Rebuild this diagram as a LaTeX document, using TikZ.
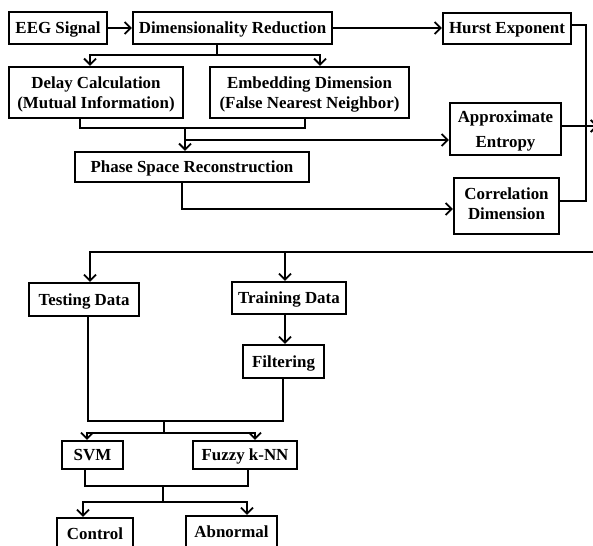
\documentclass[tikz,border=0pt]{standalone}
\usepackage{fontspec}
\setmainfont{Liberation Serif}
\usetikzlibrary{arrows.meta}
\tikzset{
  boxnode/.style={draw, line width=2.4pt, inner sep=0pt, align=center,
    font=\bfseries\fontsize{16.9}{20}\selectfont},
  oneline/.style={text height=12pt, text depth=1pt},
  conn/.style={line width=1.8pt},
  arr/.style={conn, -{Straight Barb[length=6pt,width=12pt,line width=1.8pt]}}
}
\begin{document}
\begin{tikzpicture}[x=1pt,y=-1pt]
\useasboundingbox (0,0) rectangle (593,545);
\fill[white] (0,0) rectangle (593,545);
\clip (0,0) rectangle (593,545);
% boxes
\node[boxnode, oneline, minimum width=98pt, minimum height=32pt] (eeg) at (58,28) {EEG Signal};
\node[boxnode, oneline, minimum width=199pt, minimum height=32pt] (dimred) at (232.5,28) {Dimensionality Reduction};
\node[boxnode, oneline, minimum width=128pt, minimum height=31pt] (hurst) at (507,28.5) {Hurst Exponent};
\node[boxnode, text depth=0pt, minimum width=174pt, minimum height=51pt] (delay) at (96,92.5) {Delay Calculation\\(Mutual Information)};
\node[boxnode, text depth=0pt, minimum width=199pt, minimum height=51pt] (embed) at (309.5,92.5) {Embedding Dimension\\(False Nearest Neighbor)};
\node[boxnode, oneline, minimum width=234pt, minimum height=30pt] (phase) at (192,167) {Phase Space Reconstruction};
\node[boxnode, text depth=0pt, minimum width=111pt, minimum height=52pt, font=\bfseries\fontsize{16.9}{25}\selectfont] (apen) at (505.5,129) {Approximate\\Entropy};
\node[boxnode, text depth=4pt, minimum width=105pt, minimum height=56pt] (corr) at (506.5,206) {Correlation\\Dimension};
\node[boxnode, oneline, minimum width=110pt, minimum height=33pt] (test) at (84,299.5) {Testing Data};
\node[boxnode, oneline, minimum width=114pt, minimum height=32pt] (train) at (289,298) {Training Data};
\node[boxnode, oneline, minimum width=81pt, minimum height=33pt] (filt) at (283.5,361.5) {Filtering};
\node[boxnode, oneline, minimum width=61pt, minimum height=28pt] (svm) at (92.5,455) {SVM};
\node[boxnode, oneline, minimum width=104pt, minimum height=28pt] (fuzzy) at (245,455) {Fuzzy k-NN};
\node[boxnode, oneline, minimum width=76pt, minimum height=32pt] (control) at (95,534) {Control};
\node[boxnode, oneline, minimum width=91pt, minimum height=32pt] (abnormal) at (231.5,532) {Abnormal};
% junction coordinates
\coordinate (j1) at (217,55);
\coordinate (m2) at (185,128);
\coordinate (m3) at (185,140);
\coordinate (rc) at (586,201);
\coordinate (out) at (598,126);
\coordinate (in) at (598,252);
\coordinate (t1) at (285,252);
\coordinate (m4) at (164,421);
\coordinate (m5) at (164,433);
\coordinate (m6) at (163,486);
\coordinate (m7) at (163,502);
% connectors
\draw[arr] (eeg) -- (dimred);
\draw[arr] (dimred.east) -- (dimred.east -| hurst.west);
\draw[conn] (j1 |- dimred.south) -- (j1);
\draw[arr] (j1) -| ([xshift=-6pt]delay.north);
\draw[arr] (j1) -| ([xshift=10.5pt]embed.north);
\draw[conn] ([xshift=-16pt]delay.south) |- (m2) -| ([xshift=-4.5pt]embed.south);
\draw[arr] (m2) -- (m2 |- phase.north);
\draw[arr] (m3) -- (m3 -| apen.west);
\draw[arr] ([xshift=-10pt]phase.south) |- ([yshift=-3pt]corr.west);
\draw[conn] ([yshift=3.5pt]hurst.east) -| (rc) -- (rc -| corr.east);
\draw[arr] ([yshift=3pt]apen.east) -- (out);
\draw[arr] (in) -| ([xshift=6pt]test.north);
\draw[arr] (t1) -- ([xshift=-4pt]train.north);
\draw[arr] ([xshift=-4pt]train.south) -- ([xshift=-4pt]train.south |- filt.north);
\draw[conn] ([xshift=4pt]test.south) |- (m4) -| ([xshift=-0.5pt]filt.south);
\draw[conn] (m4) -- (m5);
\draw[arr] (m5) -| ([xshift=-5.5pt]svm.north);
\draw[arr] (m5) -| ([xshift=10pt]fuzzy.north);
\draw[conn] ([xshift=-7.5pt]svm.south) |- (m6) -| ([xshift=3pt]fuzzy.south);
\draw[conn] (m6) -- (m7);
\draw[arr] (m7) -| ([xshift=-12pt]control.north);
\draw[arr] (m7) -| ([xshift=15.5pt]abnormal.north);
\end{tikzpicture}
\end{document}
